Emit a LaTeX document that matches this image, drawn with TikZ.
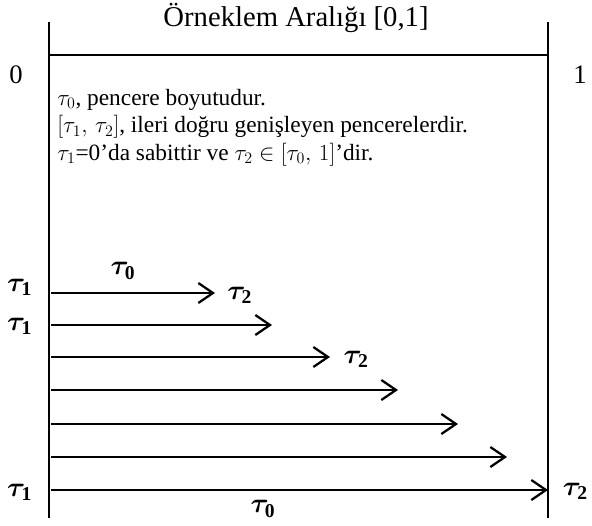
\documentclass[tikz,border=0pt]{standalone}
\usepackage{amsmath,bm}
\usepackage{fontspec}
\setmainfont{Liberation Serif}
\usetikzlibrary{arrows.meta,positioning}

\newcommand{\btau}[1]{$\bm{\tau}_{\mathbf{#1}}$}

\tikzset{
  wall/.style={line width=2.2pt},
  win/.style={line width=1.7pt, -{Straight Barb[length=11pt,width=15pt,line width=1.7pt]}},
  tlab/.style={font=\fontsize{21}{24}\selectfont, inner sep=0pt},
  big/.style={font=\fontsize{20}{24}\selectfont},
}

\begin{document}
\begin{tikzpicture}[x=0.75pt, y=-0.75pt]
  \useasboundingbox (0,0) rectangle (592,525);
  % frame of the sample interval
  \coordinate (lt) at (49,22);
  \coordinate (lb) at (49,518);
  \coordinate (rt) at (548,22);
  \coordinate (rb) at (548,518);
  \coordinate (hl) at (49,55);
  \coordinate (hr) at (548,55);
  \draw[wall] (lt) -- (lb);
  \draw[wall] (rt) -- (rb);
  \draw[wall] (hl) -- (hr);
  \node[font=\fontsize{21.5}{24}\selectfont] (title) at (296,18) {Örneklem Aralığı [0,1]};
  \node[big] (zero) at (16,75) {0};
  \node[big] (one) at (580,75) {1};
  \node[anchor=north west, align=left, inner sep=0pt,
        font=\fontsize{17.5}{20.5}\selectfont] (note) at (57,89)
    {$\tau_0$, pencere boyutudur.\\
     $[\tau_1,\,\tau_2]$, ileri doğru genişleyen pencerelerdir.\\
     $\tau_1$=0’da sabittir ve $\tau_2\in[\tau_0,\,1]$’dir.};
  % expanding windows
  \foreach \y/\x [count=\i] in {293/215, 325/272, 357/330, 390/398, 424/458, 457/507, 490/548} {
    \coordinate (s\i) at (51,\y);
    \coordinate (e\i) at (\x,\y);
    \draw[win] (s\i) -- (e\i);
  }
  \node[tlab, left=14pt of s1, yshift=4pt] (a1) {\btau{1}};
  \node[tlab, left=14pt of s2, yshift=-1pt] (a2) {\btau{1}};
  \node[tlab, left=14pt of s7, yshift=-2pt] (a7) {\btau{1}};
  \node[tlab] (w1) at (123,271) {\btau{0}};
  \node[tlab, right=9pt of e1, yshift=-2pt] (b1) {\btau{2}};
  \node[tlab, right=10pt of e3, yshift=-2pt] (b3) {\btau{2}};
  \node[tlab, right=11pt of e7, yshift=-1pt] (b7) {\btau{2}};
  \node[tlab] (w7) at (263,509) {\btau{0}};
\end{tikzpicture}
\end{document}
